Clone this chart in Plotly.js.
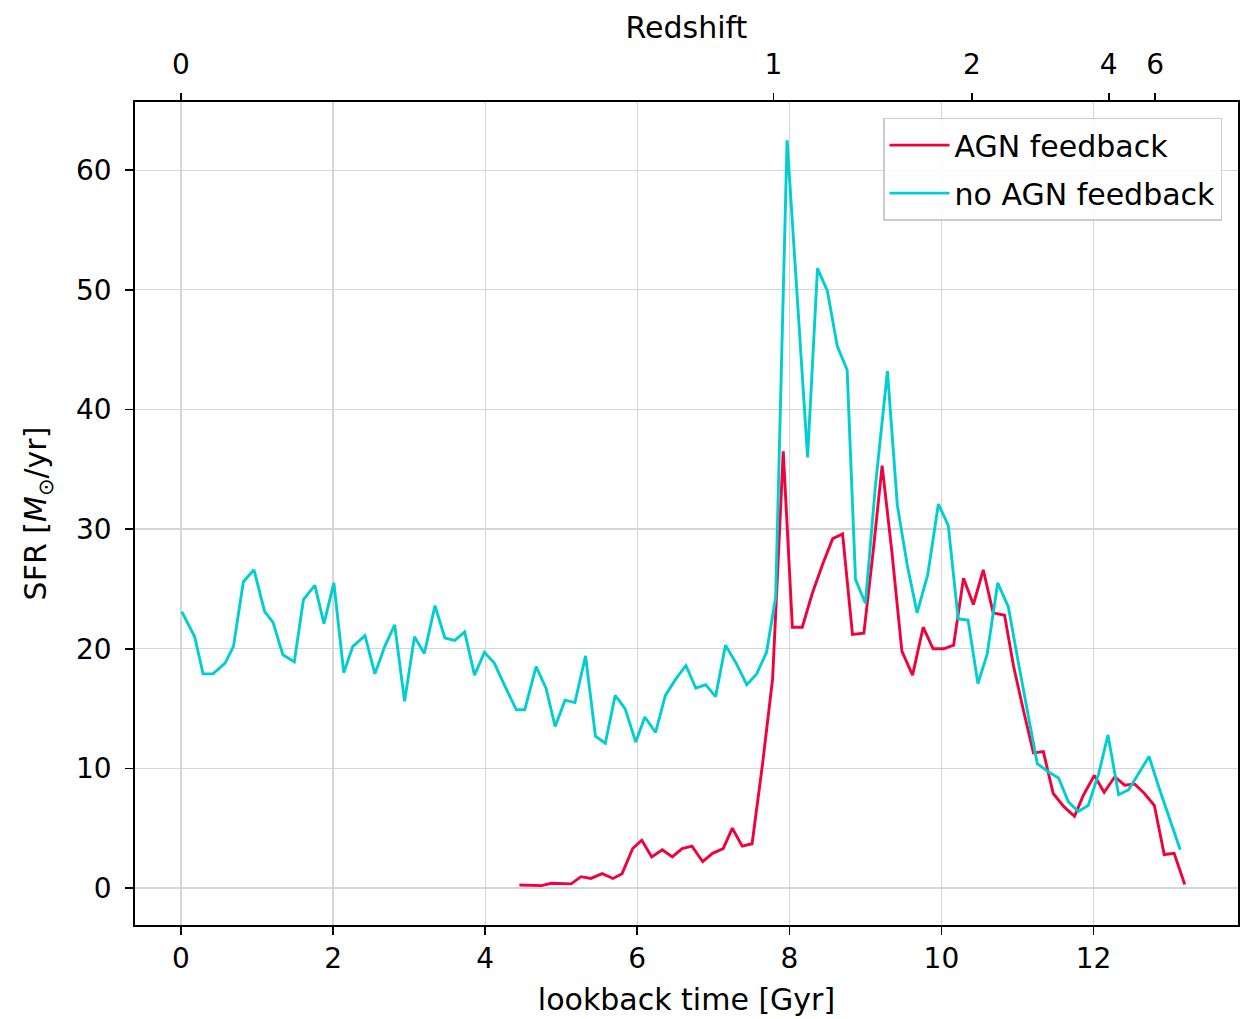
<!DOCTYPE html>
<html>
<head>
<meta charset="utf-8">
<script src="https://cdn.plot.ly/plotly-3.0.1.min.js"></script>
<style>
html, body { margin: 0; padding: 0; background: #ffffff; }
#chart { width: 1247px; height: 1019px; }
</style>
</head>
<body>
<div id="chart"></div>
<script>
// lookback time [Gyr] and SFR [Msun/yr], no AGN feedback run
const timeNoAGN = [0.01, 0.18, 0.29, 0.42, 0.58, 0.69, 0.82, 0.96, 1.10, 1.21, 1.34, 1.49, 1.61, 1.76, 1.88, 2.01,
  2.14, 2.26, 2.42, 2.55, 2.68, 2.81, 2.94, 3.07, 3.20, 3.34, 3.47, 3.60, 3.73, 3.86, 3.99, 4.12, 4.25, 4.41, 4.52,
  4.67, 4.80, 4.92, 5.05, 5.18, 5.32, 5.45, 5.58, 5.71, 5.84, 5.98, 6.10, 6.24, 6.37, 6.51, 6.64, 6.77, 6.90, 7.03,
  7.16, 7.30, 7.44, 7.57, 7.70, 7.82, 7.97, 8.10, 8.24, 8.37, 8.50, 8.63, 8.76, 8.87, 9.00, 9.13, 9.29, 9.42, 9.55,
  9.68, 9.82, 9.96, 10.09, 10.22, 10.35, 10.48, 10.60, 10.74, 10.88, 11.01, 11.14, 11.26, 11.41, 11.54, 11.67, 11.80,
  11.93, 12.07, 12.19, 12.33, 12.46, 12.59, 12.73, 12.86, 13.00, 13.14];
const sfrNoAGN = [23.1, 21.0, 17.9, 17.9, 18.8, 20.2, 25.6, 26.6, 23.1, 22.2, 19.5, 18.9, 24.1, 25.3, 22.1, 25.5,
  18.0, 20.2, 21.1, 17.9, 20.2, 22.0, 15.6, 21.0, 19.6, 23.6, 20.9, 20.7, 21.4, 17.8, 19.7, 18.8, 17.0, 14.9, 14.9,
  18.5, 16.7, 13.5, 15.7, 15.5, 19.4, 12.7, 12.1, 16.1, 15.0, 12.2, 14.3, 13.0, 16.1, 17.5, 18.6, 16.7, 17.0, 16.0,
  20.3, 18.8, 17.0, 17.9, 19.7, 24.3, 62.5, 49.5, 36.0, 51.8, 49.9, 45.3, 43.3, 25.8, 23.8, 33.5, 43.2, 32.0, 27.0,
  23.0, 26.2, 32.1, 30.3, 22.5, 22.4, 17.1, 19.5, 25.5, 23.5, 18.9, 14.3, 10.4, 9.7, 9.2, 7.2, 6.4,
  6.9, 9.6, 12.8, 7.8, 8.2, 9.6, 11.0, 8.4, 5.8, 3.2];

// AGN feedback run
const timeAGN = [4.45, 4.60, 4.74, 4.87, 5.00, 5.13, 5.26, 5.39, 5.54, 5.68, 5.80, 5.94, 6.06, 6.19, 6.33, 6.46,
  6.59, 6.72, 6.86, 6.99, 7.13, 7.25, 7.38, 7.51, 7.65, 7.78, 7.92, 8.04, 8.17, 8.30, 8.44, 8.57, 8.70, 8.83, 8.98,
  9.10, 9.22, 9.35, 9.48, 9.62, 9.76, 9.89, 10.03, 10.16, 10.29, 10.42, 10.55, 10.68, 10.83, 10.95, 11.08, 11.21,
  11.34, 11.47, 11.61, 11.75, 11.87, 12.01, 12.14, 12.28, 12.41, 12.54, 12.67, 12.80, 12.93, 13.06, 13.20];
const sfrAGN = [0.25, 0.25, 0.2, 0.4, 0.35, 0.35, 0.95, 0.8, 1.2, 0.8, 1.2, 3.3, 4.0, 2.6, 3.2, 2.6,
  3.3, 3.5, 2.2, 2.9, 3.3, 5.0, 3.5, 3.7, 10.5, 17.5, 36.5, 21.8, 21.8, 24.6, 27.1, 29.2, 29.6, 21.2, 21.3,
  28.0, 35.3, 28.0, 19.8, 17.8, 21.8, 20.0, 20.0, 20.3, 25.9, 23.7, 26.6, 23.0, 22.8, 18.5, 14.8, 11.3,
  11.4, 7.9, 6.8, 6.0, 7.8, 9.4, 8.0, 9.3, 8.6, 8.7, 7.9, 6.9, 2.8, 2.9, 0.3];

// axis ticks
const lookbackTicks = [0, 2, 4, 6, 8, 10, 12];
const sfrTicks = [0, 10, 20, 30, 40, 50, 60];
const redshiftTickPos = [0, 7.79, 10.40, 12.20, 12.81];
const redshiftTickText = ['0', '1', '2', '4', '6'];

const FONT = 'DejaVu Sans, Liberation Sans, sans-serif';
const xRange = [-0.605, 13.9];

const traces = [
  { x: timeAGN, y: sfrAGN, type: 'scatter', mode: 'lines', name: 'AGN feedback', legendgroup: 'agn',
    line: { color: '#f0033c', width: 2.9 } },
  { x: timeNoAGN, y: sfrNoAGN, type: 'scatter', mode: 'lines', name: 'no AGN feedback', legendgroup: 'noagn',
    line: { color: '#00ced1', width: 2.9 } },
  { x: [], y: [], xaxis: 'x2', yaxis: 'y', type: 'scatter', mode: 'lines', showlegend: false, hoverinfo: 'skip' }
];

const layout = {
  width: 1247, height: 1019,
  margin: { l: 135, r: 9, t: 102, b: 94 },
  paper_bgcolor: '#ffffff', plot_bgcolor: '#ffffff',
  font: { family: FONT, size: 28, color: '#000000' },
  showlegend: true,
  legend: {
    x: 0.9855, xanchor: 'right', y: 0.981, yanchor: 'top',
    bgcolor: 'rgba(255,255,255,0.85)', bordercolor: '#cccccc', borderwidth: 1.5,
    font: { family: FONT, size: 30, color: '#000000' },
    itemwidth: 60, tracegroupgap: 6
  },
  xaxis: {
    range: xRange, tickmode: 'array', tickvals: lookbackTicks, ticktext: lookbackTicks.map(String),
    showgrid: true, gridcolor: '#d6d6d6', gridwidth: 1.3, zeroline: false,
    showline: true, linecolor: '#000000', linewidth: 1.8, mirror: true,
    ticks: 'outside', ticklen: 8, tickwidth: 1.6, tickcolor: '#000000',
    tickfont: { family: FONT, size: 28 },
    title: { text: 'lookback time [Gyr]', font: { family: FONT, size: 30 }, standoff: 14 }
  },
  xaxis2: {
    overlaying: 'x', side: 'top', range: xRange, anchor: 'y',
    tickmode: 'array', tickvals: redshiftTickPos, ticktext: redshiftTickText,
    showgrid: false, zeroline: false, showline: false,
    ticks: 'outside', ticklen: 8, tickwidth: 1.6, tickcolor: '#000000',
    ticklabelstandoff: 8,
    tickfont: { family: FONT, size: 28 },
    title: { text: 'Redshift', font: { family: FONT, size: 30 }, standoff: 0 }
  },
  yaxis: {
    range: [-3.09, 65.7], tickmode: 'array', tickvals: sfrTicks, ticktext: sfrTicks.map(String),
    showgrid: true, gridcolor: '#d6d6d6', gridwidth: 1.3, zeroline: false,
    showline: true, linecolor: '#000000', linewidth: 1.8, mirror: true,
    ticks: 'outside', ticklen: 8, tickwidth: 1.6, tickcolor: '#000000',
    ticklabelstandoff: 8,
    tickfont: { family: FONT, size: 28 },
    title: { text: 'SFR [<i>M</i><sub>⊙</sub>/yr]', font: { family: FONT, size: 30 }, standoff: 20 }
  }
};

Plotly.newPlot('chart', traces, layout, { displayModeBar: false, staticPlot: true });
</script>
</body>
</html>
